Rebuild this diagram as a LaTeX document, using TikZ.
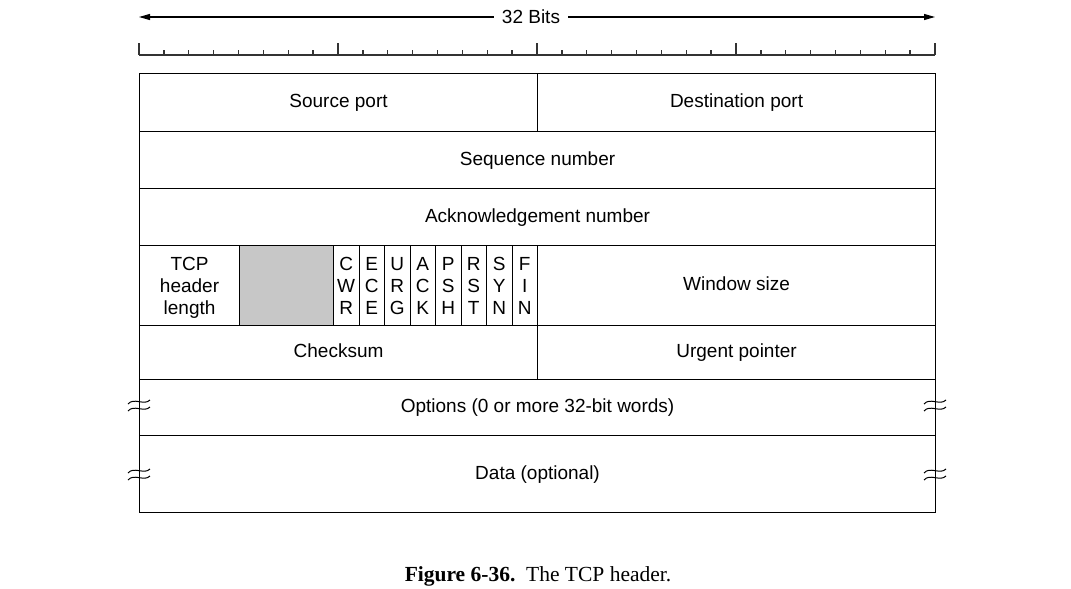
\documentclass[tikz,border=0pt]{standalone}
\usepackage{fontspec}
\setmainfont{Liberation Sans}
\newfontfamily\capfont{Liberation Serif}
\usetikzlibrary{arrows.meta}
\newcommand\lnstrut{\rule[-3pt]{0pt}{21pt}}
\newcommand\threelines[3]{\lnstrut#1\\\lnstrut#2\\\lnstrut#3}
\tikzset{
  field/.style={draw, line width=1.1pt, anchor=north west, inner sep=0pt, align=center,
    font=\fontsize{19}{22}\selectfont},
  oneline/.style={field, text height=14pt, text depth=4pt},
  flagbox/.style={field, line width=0.9pt, minimum width=25.5pt, minimum height=80pt},
  arr/.style={line width=1.1pt, -{Triangle[length=11pt,width=6pt]}},
  ruler/.style={line width=1.3pt, draw=black!80},
  brkline/.style={line width=1pt},
}
\begin{document}
\begin{tikzpicture}[x=1pt,y=-1pt]
\useasboundingbox (0,0) rectangle (1071,589);
% width arrow
\node[font=\fontsize{19}{22}\selectfont, inner sep=8pt] (bits) at (531,17) {32 Bits};
\coordinate (aL) at (139,17);
\coordinate (aR) at (935,17);
\draw[arr] (bits.west) -- (aL);
\draw[arr] (bits.east) -- (aR);
% ruler
\draw[ruler] (139,55) -- (935,55);
\foreach \i in {0,...,32}{
  \pgfmathsetmacro\xx{139+\i*24.875}
  \pgfmathtruncatemacro\m{mod(\i,8)}
  \ifnum\m=0
    \draw[ruler] (\xx,43) -- (\xx,55);
  \else
    \draw[ruler] (\xx,50) -- (\xx,55);
  \fi
}
% row 1
\node[oneline, minimum width=398pt, minimum height=58pt] (src) at (139,73) {Source port};
\node[oneline, minimum width=398pt, minimum height=58pt] (dst) at (537,73) {Destination port};
% row 2
\node[oneline, minimum width=796pt, minimum height=57pt] (seq) at (139,131) {Sequence number};
% row 3
\node[oneline, minimum width=796pt, minimum height=57pt] (ack) at (139,188) {Acknowledgement number};
% row 4
\node[field, minimum width=100pt, minimum height=80pt] (hlen) at (139,245) {\threelines{TCP}{header}{length}};
\node[field, fill=black!22, minimum width=94pt, minimum height=80pt] (res) at (239,245) {};
\node[flagbox] (cwr) at (333,245) {\threelines{C}{W}{R}};
\node[flagbox] (ece) at (358.5,245) {\threelines{E}{C}{E}};
\node[flagbox] (urg) at (384,245) {\threelines{U}{R}{G}};
\node[flagbox] (ackf) at (409.5,245) {\threelines{A}{C}{K}};
\node[flagbox] (psh) at (435,245) {\threelines{P}{S}{H}};
\node[flagbox] (rst) at (460.5,245) {\threelines{R}{S}{T}};
\node[flagbox] (syn) at (486,245) {\threelines{S}{Y}{N}};
\node[flagbox] (fin) at (511.5,245) {\threelines{F}{I}{N}};
\node[oneline, minimum width=398pt, minimum height=80pt] (win) at (537,245) {Window size};
% row 5
\node[oneline, minimum width=398pt, minimum height=54pt] (chk) at (139,325) {Checksum};
\node[oneline, minimum width=398pt, minimum height=54pt] (urgp) at (537,325) {Urgent pointer};
% row 6
\node[oneline, minimum width=796pt, minimum height=56pt] (opt) at (139,379) {Options (0 or more 32-bit words)};
% row 7
\node[oneline, minimum width=796pt, minimum height=77pt] (data) at (139,435) {Data (optional)};
% break marks
\foreach \bx/\by in {139/402, 139/409, 139/471, 139/478, 935/402, 935/409, 935/471, 935/478}{
  \draw[brkline, shift={(\bx,\by)}] (-11,2) .. controls (-5,-5) and (5,4) .. (11,-2);
}
% caption
\node[font=\capfont\fontsize{21.5}{24}\selectfont] (cap) at (538,576) {\textbf{Figure 6-36.}\ \ The TCP header.};
\end{tikzpicture}
\end{document}
